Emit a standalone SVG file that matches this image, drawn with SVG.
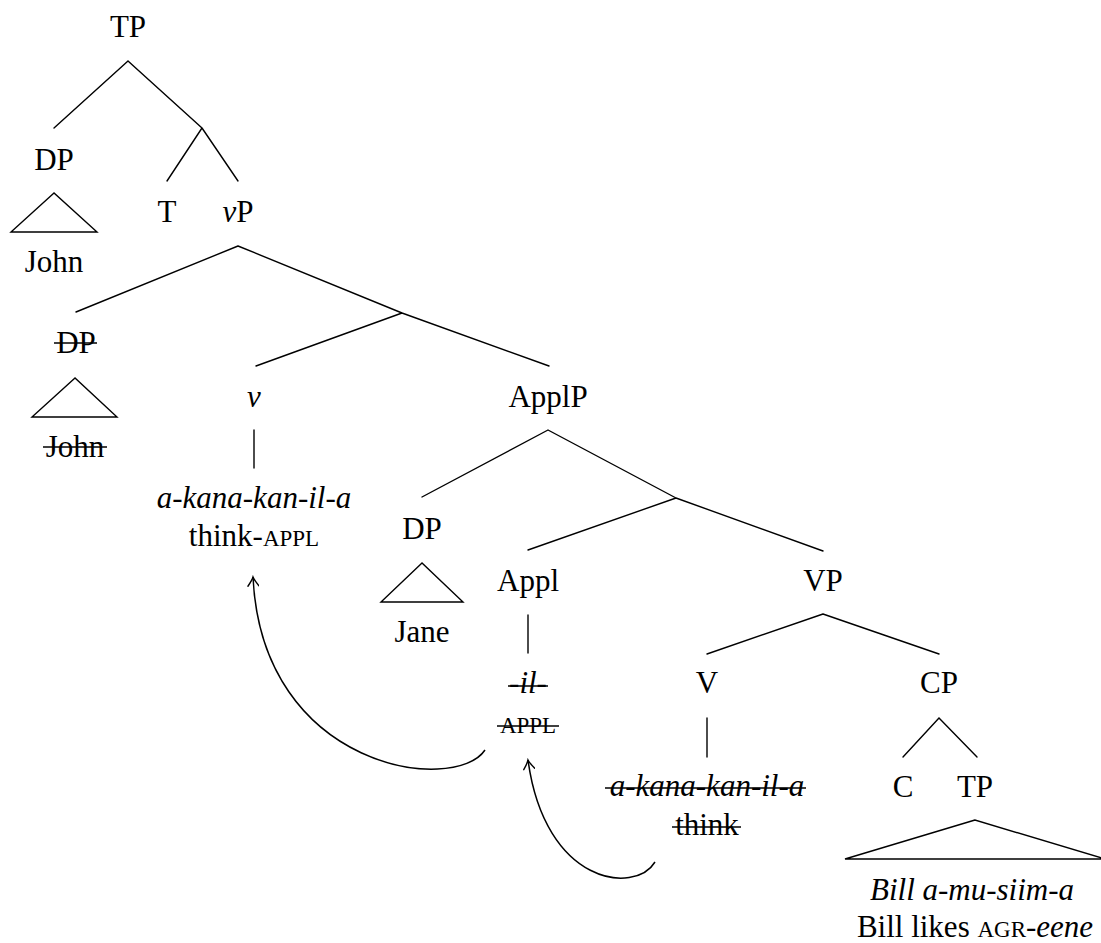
<svg xmlns="http://www.w3.org/2000/svg" width="1101" height="943" viewBox="0 0 1101 943">
  <style>
    text { font-family: "Liberation Serif", "DejaVu Serif", serif; font-size: 31px; fill: #000; text-anchor: middle; }
    .it { font-style: italic; }
    .sc { font-size: 23px; }
    .edge { stroke: #000; stroke-width: 1.4; fill: none; stroke-linecap: round; }
    .tri { stroke: #000; stroke-width: 1.4; fill: none; stroke-linejoin: miter; }
    .strike { stroke: #000; stroke-width: 1.3; fill: none; }
    .move { stroke: #000; stroke-width: 1.5; fill: none; }
  </style>
  <defs>
    <marker id="arrow" viewBox="-10 -6 12 12" markerWidth="12" markerHeight="12" refX="0" refY="0" orient="auto" markerUnits="userSpaceOnUse">
      <path d="M-9,-5.5 Q-3,-1 0,0 Q-3,1 -9,5.5" fill="none" stroke="#000" stroke-width="1.4" stroke-linecap="round"/>
    </marker>
  </defs>

  <rect width="1101" height="943" fill="#fff"/>

  <!-- tree branches -->
  <g id="connectors">
    <path class="edge" d="M128,61 L54,128 M128,61 L202,128 M202,128 L167,181 M202,128 L238,181"/>
    <path class="edge" d="M238,246 L76,312 M238,246 L402,313 M402,313 L256,366 M402,313 L549,366"/>
    <path class="edge" d="M254,430 L254,468"/>
    <path class="edge" d="M548,430 L422,497 M548,430 L676,498 M676,498 L528,550 M676,498 L823,551"/>
    <path class="edge" d="M528,615 L528,653"/>
    <path class="edge" d="M823,614 L707,654 M823,614 L939,654"/>
    <path class="edge" d="M707,718 L707,757"/>
    <path class="edge" d="M939,718 L903,757 M939,718 L977,757"/>
    <!-- head movement arrows -->
    <path class="move" d="M485,750 C455,795 262,770 253,577" marker-end="url(#arrow)"/>
    <path class="move" d="M655,862 C635,895 545,885 528,760" marker-end="url(#arrow)"/>
  </g>

  <g id="tp-root"><text x="128" y="37">TP</text></g>

  <g id="dp-john">
    <text x="54" y="170">DP</text>
    <path class="tri" d="M54,193 L11,232 L97,232 Z"/>
    <text x="54" y="272">John</text>
  </g>

  <g id="t-head"><text x="167" y="222">T</text></g>
  <g id="vp"><text x="238" y="222"><tspan class="it">v</tspan>P</text></g>

  <!-- deleted lower copy of the subject -->
  <g id="dp-john-copy">
    <text x="76" y="353">DP</text>
    <path class="strike" d="M54,343 L97,343"/>
    <path class="tri" d="M75,378 L32,417 L117,417 Z"/>
    <text x="75" y="457">John</text>
    <path class="strike" d="M43,447 L107,447"/>
  </g>

  <g id="v-head">
    <text class="it" x="254" y="407">v</text>
    <text class="it" x="254" y="508">a-kana-kan-il-a</text>
    <text x="254" y="546">think-<tspan class="sc">APPL</tspan></text>
  </g>

  <g id="applp"><text x="548" y="407">ApplP</text></g>

  <g id="dp-jane">
    <text x="422" y="539">DP</text>
    <path class="tri" d="M422,563 L381,602 L463,602 Z"/>
    <text x="422" y="642">Jane</text>
  </g>

  <g id="appl-head">
    <text x="528" y="591">Appl</text>
    <text class="it" x="528" y="693">-il-</text>
    <path class="strike" d="M508,686 L548,686"/>
    <text class="sc" x="528" y="733">APPL</text>
    <path class="strike" d="M497,726 L559,726"/>
  </g>

  <g id="vp-lower"><text x="823" y="591">VP</text></g>

  <g id="v-lower">
    <text x="707" y="693">V</text>
    <text class="it" x="707" y="796">a-kana-kan-il-a</text>
    <path class="strike" d="M605,788 L806,788"/>
    <text x="707" y="835">think</text>
    <path class="strike" d="M672,827 L741,827"/>
  </g>

  <g id="cp"><text x="939" y="693">CP</text></g>
  <g id="c-head"><text x="903" y="797">C</text></g>

  <g id="tp-embedded">
    <text x="975" y="797">TP</text>
    <path class="tri" d="M975,820 L845,859 L1105,859 Z"/>
    <text class="it" x="972" y="900">Bill a-mu-siim-a</text>
    <text x="975" y="937">Bill likes <tspan class="sc">AGR</tspan>-<tspan class="it">eene</tspan></text>
  </g>
</svg>
